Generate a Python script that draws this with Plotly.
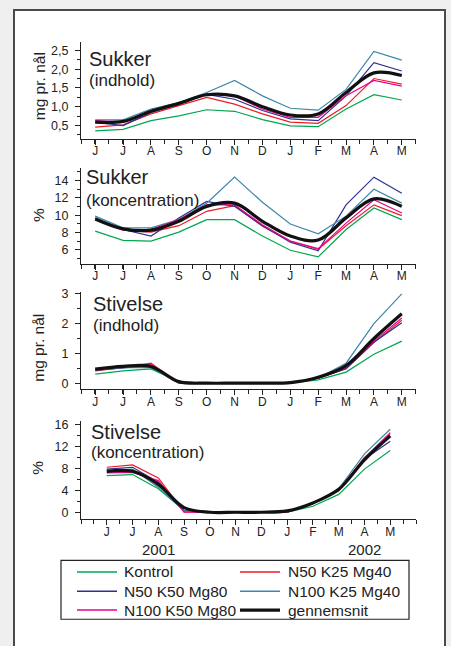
import numpy as np
import plotly.graph_objects as go

W, H = 451, 646

months = ["J", "J", "A", "S", "O", "N", "D", "J", "F", "M", "A", "M"]
series_names = ["Kontrol", "N50 K25 Mg40", "N50 K50 Mg80", "N100 K25 Mg40", "N100 K50 Mg80", "gennemsnit"]

# Panel 1: Sukker (indhold), mg pr. nål
suk_ind_kontrol = [0.36, 0.40, 0.63, 0.76, 0.92, 0.88, 0.66, 0.49, 0.47, 0.94, 1.32, 1.18]
suk_ind_n50k25 = [0.46, 0.52, 0.81, 1.03, 1.25, 1.07, 0.81, 0.59, 0.56, 1.03, 1.75, 1.60]
suk_ind_n50k50 = [0.59, 0.50, 0.85, 1.07, 1.33, 1.20, 0.90, 0.68, 0.63, 1.29, 2.17, 1.95]
suk_ind_n100k25 = [0.65, 0.65, 0.94, 1.11, 1.38, 1.70, 1.29, 0.96, 0.91, 1.46, 2.47, 2.24]
suk_ind_n100k50 = [0.63, 0.59, 0.89, 1.09, 1.35, 1.29, 0.94, 0.72, 0.72, 1.29, 1.70, 1.55]
suk_ind_avg = [0.59, 0.61, 0.88, 1.09, 1.32, 1.29, 1.00, 0.78, 0.81, 1.38, 1.90, 1.83]

# Panel 2: Sukker (koncentration), %
suk_kon_kontrol = [8.17, 7.10, 7.03, 8.06, 9.50, 9.50, 7.60, 5.96, 5.20, 8.36, 10.84, 9.50]
suk_kon_n50k25 = [9.58, 8.29, 8.06, 8.80, 10.46, 11.10, 8.74, 7.03, 6.08, 8.80, 11.20, 9.96]
suk_kon_n50k50 = [9.70, 8.36, 7.60, 9.70, 11.60, 11.03, 8.80, 6.90, 5.90, 11.20, 14.40, 12.55]
suk_kon_n100k25 = [9.90, 8.55, 8.55, 9.50, 11.40, 14.40, 11.50, 9.00, 7.87, 9.90, 13.00, 11.40]
suk_kon_n100k50 = [9.60, 8.36, 8.36, 9.50, 11.20, 11.20, 8.90, 7.03, 6.15, 9.10, 11.80, 10.27]
suk_kon_avg = [9.58, 8.44, 8.29, 9.31, 11.03, 11.40, 9.31, 7.60, 7.14, 9.70, 11.90, 11.03]

# Panel 3: Stivelse (indhold), mg pr. nål
sti_ind_kontrol = [0.30, 0.41, 0.48, 0.05, 0.0, 0.0, 0.0, 0.0, 0.11, 0.37, 0.97, 1.41]
sti_ind_n50k25 = [0.41, 0.52, 0.67, 0.0, 0.0, 0.0, 0.0, 0.0, 0.17, 0.48, 1.37, 2.11]
sti_ind_n50k50 = [0.44, 0.52, 0.59, 0.03, 0.0, 0.0, 0.0, 0.0, 0.17, 0.48, 1.37, 2.03]
sti_ind_n100k25 = [0.44, 0.52, 0.52, 0.05, 0.0, 0.0, 0.0, 0.0, 0.17, 0.67, 2.00, 3.00]
sti_ind_n100k50 = [0.44, 0.56, 0.63, 0.0, 0.0, 0.0, 0.0, 0.0, 0.17, 0.52, 1.41, 2.19]
sti_ind_avg = [0.47, 0.56, 0.56, 0.05, 0.0, 0.0, 0.0, 0.02, 0.20, 0.59, 1.50, 2.33]

# Panel 4: Stivelse (koncentration), %
sti_kon_kontrol = [6.7, 6.9, 4.3, 0.36, 0.0, 0.0, 0.0, 0.0, 1.1, 3.27, 7.9, 11.3]
sti_kon_n50k25 = [8.24, 8.67, 6.3, 0.06, 0.0, 0.0, 0.0, 0.0, 1.6, 3.9, 10.06, 14.4]
sti_kon_n50k50 = [7.9, 8.24, 5.5, 0.24, 0.0, 0.0, 0.0, 0.0, 1.6, 4.0, 9.76, 13.0]
sti_kon_n100k25 = [7.6, 7.9, 4.6, 0.24, 0.0, 0.0, 0.0, 0.0, 1.6, 4.3, 10.7, 15.2]
sti_kon_n100k50 = [7.2, 7.3, 5.8, 0.0, 0.0, 0.0, 0.0, 0.0, 1.6, 4.1, 9.9, 14.6]
sti_kon_avg = [7.5, 7.5, 5.1, 0.85, 0.0, 0.0, 0.0, 0.24, 1.7, 4.2, 9.6, 14.0]

panels = [
    [suk_ind_kontrol, suk_ind_n50k25, suk_ind_n50k50, suk_ind_n100k25, suk_ind_n100k50, suk_ind_avg],
    [suk_kon_kontrol, suk_kon_n50k25, suk_kon_n50k50, suk_kon_n100k25, suk_kon_n100k50, suk_kon_avg],
    [sti_ind_kontrol, sti_ind_n50k25, sti_ind_n50k50, sti_ind_n100k25, sti_ind_n100k50, sti_ind_avg],
    [sti_kon_kontrol, sti_kon_n50k25, sti_kon_n50k50, sti_kon_n100k25, sti_kon_n100k50, sti_kon_avg],
]
panel_titles = [("Sukker", "(indhold)"), ("Sukker", "(koncentration)"),
                ("Stivelse", "(indhold)"), ("Stivelse", "(koncentration)")]
y_titles = ["mg pr. nål", "%", "mg pr. nål", "%"]
years = ["2001", "2002"]

colors = ["#00a651", "#ed1c24", "#2e3192", "#3f86a8", "#ec008c", "#111111"]
widths = [1.2, 1.2, 1.2, 1.2, 1.2, 3.2]

FONT = "Liberation Sans, Arial, sans-serif"
TXT = "#222222"

# layout geometry (pixels)
xl, xr = 81, 416
ybox = [(37, 135), (165, 261), (290, 387.7), (420, 519)]
yranges = [[0.15, 2.73], [4.43, 15.4], [-0.2, 3.05], [-1.27, 16.7]]
ydt = [0.5, 2, 1, 4]
yminor = [0.25, 1, 0.5, 2]
yfmt = [".1f", "d", "d", "d"]
xranges = [[-0.51, 11.51], [-0.51, 11.51], [-0.51, 11.51], [-1, 12]]
title_pos = [((87, 55), (87, 76)), ((84, 174), (84, 197)), ((91, 302), (91, 324)), ((89, 431), (89, 452))]
ytitle_pos = [(39, 82), (38, 212), (39, 346), (38, 467)]

# legend geometry (pixels): box, rows, columns
leg_box = (61, 560.5, 409, 620)
leg_rows = [572.3, 591.7, 610.7]
leg_cols = [(77, 117, 122), (240, 280, 285.5)]

fig = go.Figure()
x = list(range(len(months)))

for p, data in enumerate(panels):
    xa = "x" if p == 0 else f"x{p+1}"
    ya = "y" if p == 0 else f"y{p+1}"
    for i, vals in enumerate(data):
        fig.add_trace(go.Scatter(
            x=x, y=vals, mode="lines", name=series_names[i],
            line=dict(color=colors[i], width=widths[i],
                      shape="spline" if i == 5 else "linear", smoothing=1.0),
            xaxis=xa, yaxis=ya, legendgroup=series_names[i], showlegend=False,
            hoverinfo="skip"))

layout = dict(
    width=W, height=H, margin=dict(l=0, r=0, t=0, b=0),
    paper_bgcolor="#efefef", plot_bgcolor="rgba(0,0,0,0)",
    separators=",.",
    font=dict(family=FONT, color=TXT, size=12),
    showlegend=False,
)

for p in range(4):
    xk = "xaxis" if p == 0 else f"xaxis{p+1}"
    yk = "yaxis" if p == 0 else f"yaxis{p+1}"
    ya = "y" if p == 0 else f"y{p+1}"
    xa = "x" if p == 0 else f"x{p+1}"
    y0, y1 = ybox[p]
    lo, hi = xranges[p]
    minor_vals = [v for v in np.arange(lo, hi + 0.01, 0.5) if abs(v - round(v)) > 0.01 or v < 0 or v > 11]
    layout[xk] = dict(
        domain=[xl / W, xr / W], range=xranges[p], anchor=ya,
        tickmode="array", tickvals=x, ticktext=months,
        ticks="outside", ticklen=5, tickwidth=1.1, tickcolor="#222",
        minor=dict(tickmode="array", tickvals=minor_vals, ticks="outside", ticklen=4, tickwidth=1.1, tickcolor="#222"),
        showline=True, linecolor="#222", linewidth=1.3, showgrid=False, zeroline=False,
        tickfont=dict(size=12, color=TXT), fixedrange=True, ticklabelstandoff=-4,
    )
    layout[yk] = dict(
        domain=[1 - y1 / H, 1 - y0 / H], range=yranges[p], anchor=xa,
        tickmode="linear", tick0=0, dtick=ydt[p], tickformat=yfmt[p],
        ticks="outside", ticklen=5, tickwidth=1.1, tickcolor="#222",
        minor=dict(dtick=yminor[p], tick0=0, ticks="outside", ticklen=3, tickwidth=1.1, tickcolor="#222"),
        showline=True, linecolor="#222", linewidth=1.3, showgrid=False, zeroline=False,
        tickfont=dict(size=12.5, color=TXT), fixedrange=True, ticklabelstandoff=4,
    )

fig.update_layout(**layout)

# frame
fig.add_shape(type="rect", xref="paper", yref="paper",
              x0=14 / W, x1=445 / W, y0=-0.05, y1=1 - 5 / H,
              line=dict(color="#4a4a4a", width=2), fillcolor="white", layer="below")

ann = []
for p in range(4):
    (tx, ty), (sx, sy) = title_pos[p]
    ann.append(dict(text=panel_titles[p][0], x=tx / W, y=1 - ty / H, xref="paper", yref="paper",
                    xanchor="left", yanchor="middle", showarrow=False,
                    font=dict(size=20, family=FONT, color=TXT)))
    ann.append(dict(text=panel_titles[p][1], x=sx / W, y=1 - sy / H, xref="paper", yref="paper",
                    xanchor="left", yanchor="middle", showarrow=False,
                    font=dict(size=17, family=FONT, color=TXT)))
    ax, ay = ytitle_pos[p]
    ann.append(dict(text=y_titles[p], x=ax / W, y=1 - ay / H, xref="paper", yref="paper",
                    xanchor="center", yanchor="middle", showarrow=False, textangle=-90,
                    font=dict(size=15.5, family=FONT, color=TXT)))

for yr, xi in zip(years, [2, 10]):
    ann.append(dict(text=yr, x=xi, y=1 - 550 / H, xref="x4", yref="paper",
                    xanchor="center", yanchor="middle", showarrow=False,
                    font=dict(size=15, family=FONT, color=TXT)))

# legend (two columns, filled row by row)
bx0, by0, bx1, by1 = leg_box
fig.add_shape(type="rect", xref="paper", yref="paper",
              x0=bx0 / W, x1=bx1 / W, y0=1 - by1 / H, y1=1 - by0 / H,
              line=dict(color="#222222", width=1.2), fillcolor="white")
for i, name in enumerate(series_names):
    r, c = divmod(i, 2)
    lx0, lx1, tx = leg_cols[c]
    ly = 1 - leg_rows[r] / H
    fig.add_shape(type="line", xref="paper", yref="paper",
                  x0=lx0 / W, x1=lx1 / W, y0=ly, y1=ly,
                  line=dict(color=colors[i], width=1.5 if i < 5 else 3.2))
    ann.append(dict(text=name, x=tx / W, y=ly, xref="paper", yref="paper",
                    xanchor="left", yanchor="middle", showarrow=False,
                    font=dict(size=15.5, family=FONT, color=TXT)))

fig.update_layout(annotations=ann)
fig.write_html("out.html")
